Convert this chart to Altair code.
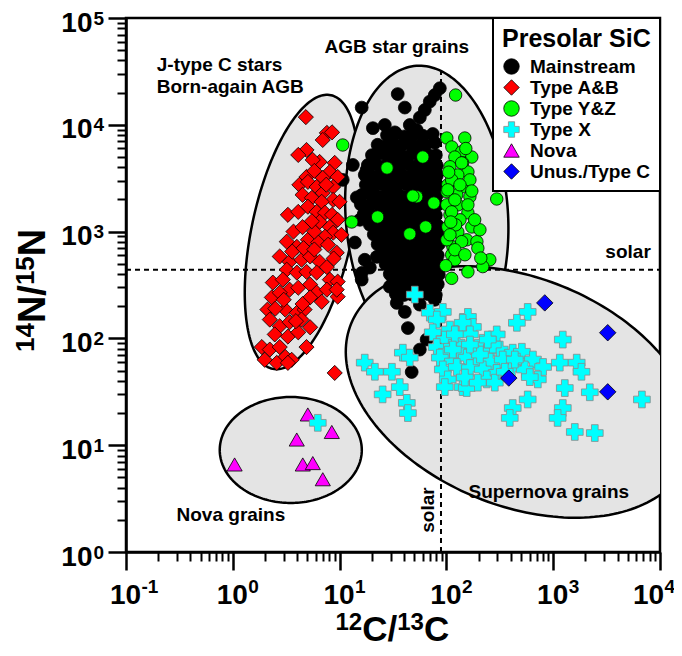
import altair as alt
import numpy as np
import pandas as pd

FONT = "Liberation Sans"

# ---------------- data: (12C/13C, 14N/15N) ----------------
mainstream = [
    (35.0, 19400), (16.1, 14500), (40.8, 14500), (77.9, 19000), (69.9, 16500), (62.8, 13760),
    (56.4, 11700), (20.5, 9300), (26.5, 9960), (32.9, 8500), (45.4, 9960), (52.7, 8940), (86.8, 22000),
    (27.8, 8000), (33.6, 8300), (40.8, 7800), (49.6, 8100), (60.1, 7900), (74.5, 8200),
    (22.7, 6500), (27.0, 6300), (32.2, 6600), (38.0, 6400), (45.4, 6700), (54.1, 6300), (64.0, 6500), (77.9, 6800),
    (20.1, 5200), (23.8, 5400), (28.3, 5100), (33.6, 5300), (40.0, 5000), (47.3, 5350), (56.4, 5150), (66.9, 5250), (79.6, 5200),
    (18.4, 4200), (21.8, 4300), (26.0, 4100), (30.9, 4250), (36.6, 4150), (43.6, 4300), (51.7, 4100), (61.6, 4250), (72.7, 4200), (81.3, 4150),
    (17.2, 3400), (20.4, 3300), (24.3, 3450), (28.9, 3350), (34.3, 3400), (40.8, 3300), (48.5, 3450), (57.5, 3350), (68.5, 3400), (81.3, 3350),
    (17.6, 2750), (20.9, 2700), (24.8, 2800), (29.5, 2700), (35.0, 2750), (41.6, 2800), (49.5, 2700), (58.7, 2750), (69.9, 2700), (81.3, 2750),
    (16.1, 2200), (19.2, 2250), (22.7, 2150), (27.0, 2200), (32.2, 2250), (38.0, 2150), (45.4, 2200), (54.1, 2250), (64.0, 2200), (76.3, 2150), (83.0, 2250),
    (15.8, 1800), (18.8, 1750), (22.3, 1820), (26.5, 1760), (31.6, 1800), (37.4, 1750), (44.5, 1800), (53.0, 1770), (62.8, 1800), (74.5, 1760), (83.0, 1790),
    (16.8, 1450), (20.1, 1420), (23.8, 1440), (28.3, 1410), (33.6, 1450), (40.0, 1420), (47.3, 1440), (56.4, 1430), (66.9, 1450), (79.6, 1420),
    (19.2, 1160), (22.7, 1140), (27.0, 1170), (32.2, 1150), (38.0, 1160), (45.4, 1140), (54.1, 1170), (64.0, 1150), (76.3, 1160), (83.0, 1140),
    (20.9, 940), (24.8, 920), (29.5, 945), (35.0, 925), (41.6, 940), (49.5, 920), (58.7, 935), (69.9, 925), (83.0, 940),
    (22.7, 760), (27.0, 745), (32.2, 755), (38.0, 750), (45.4, 760), (54.1, 745), (64.0, 755), (76.3, 750), (84.9, 760),
    (24.8, 610), (29.5, 600), (35.0, 615), (41.6, 600), (49.5, 610), (58.7, 605), (69.9, 612), (83.0, 600),
    (27.0, 495), (32.2, 485), (38.0, 492), (45.4, 488), (54.1, 495), (64.0, 485), (76.3, 490), (84.9, 495),
    (29.5, 400), (35.0, 390), (41.6, 398), (49.5, 392), (58.7, 400), (69.9, 390), (84.9, 396),
    (30.9, 320), (36.6, 315), (43.6, 322), (51.7, 318), (61.6, 320), (72.7, 316), (83.0, 322),
    (33.6, 260), (40.0, 255), (47.3, 258), (56.4, 256), (66.9, 260), (79.6, 255),
    (13.3, 4210), (10.7, 3050), (14.5, 2090), (13.9, 790), (15.5, 1290), (16.1, 410), (17.2, 545),
    (19.2, 460), (22.3, 580), (17.9, 3780), (16.1, 355),
    (34.3, 215), (43.6, 125), (56.4, 78.6), (47.3, 48.5), (29.5, 305), (52.7, 305), (69.9, 268),
    (39.1, 268), (65.3, 97.5), (40.8, 177), (56.4, 207), (77.9, 230),
]
type_ab = [
    (4.83, 11800), (7.6, 8400), (8.5, 8500), (6.95, 7210), (4.9, 5810), (4.1, 5220), (6.5, 4490), (5.6, 4690), (9.0, 4400),
    (8.1, 3620), (9.6, 3250), (4.9, 3250), (6.95, 3180), (4.2, 2740), (5.05, 2920), (6.1, 2620), (8.7, 2620), (6.95, 2300),
    (4.5, 2210), (5.5, 2070), (8.7, 1980), (6.8, 1900), (10.0, 1900),
    (3.28, 1435), (4.1, 1530), (5.05, 1710), (6.1, 1530), (7.3, 1500), (8.5, 1435), (9.6, 1290),
    (6.5, 1235), (8.1, 1105), (8.7, 975), (10.4, 933), (7.3, 895),
    (3.2, 805), (3.98, 720), (5.05, 838), (6.3, 790), (7.8, 753), (9.4, 635),
    (2.75, 585), (3.4, 522), (4.4, 545), (5.3, 585), (6.5, 522), (7.6, 465),
    (3.2, 440), (3.98, 413), (4.9, 420), (6.1, 413), (8.1, 355), (9.6, 340),
    (2.37, 333), (2.94, 355), (3.4, 286), (4.1, 298), (5.3, 319), (6.1, 268), (7.6, 286), (9.6, 246),
    (2.32, 242), (2.75, 268), (5.3, 242), (9.4, 286),
    (2.11, 186), (3.1, 186), (3.98, 174), (4.7, 186),
    (2.22, 150), (2.75, 130), (3.4, 142), (4.4, 150), (5.3, 127),
    (2.47, 109), (3.28, 104), (4.1, 114),
    (1.87, 83), (2.22, 78.6), (2.75, 83), (3.1, 67), (3.56, 63), (4.9, 83),
    (1.99, 63), (2.58, 59), (3.28, 59),
    (9.0, 47.5),
    (3.7, 1000), (4.5, 1100), (5.8, 1000), (3.6, 650), (4.6, 700), (5.8, 680), (8.8, 560), (3.0, 230),
    (4.5, 210), (6.8, 220), (3.9, 145), (2.5, 190), (5.8, 3700), (7.5, 2750), (5.5, 1250),
]
type_yz = [
    (100.9, 7520), (148.7, 7520), (112.4, 6200), (139, 5580), (173, 4990), (120, 4990), (108, 4050), (142, 4400),
    (159, 3620), (128, 3390), (103, 2740), (139, 2620), (166, 2120), (125, 2210), (101, 1780), (128, 1780),
    (159, 1500), (108, 1435), (134, 1290), (103, 1105), (128, 990), (155, 838), (193, 805), (197, 700),
    (115, 720), (112, 607), (255, 545), (219, 470), (159, 420), (112, 365), (120, 545), (139, 805),
    (101, 838), (152, 6000), (101, 2360),
    (112, 3050), (166, 3050), (103, 2460), (173, 2400), (120, 1980), (159, 1780), (112, 1530), (122, 1157),
    (173, 1105), (108, 933), (206, 1040), (120, 676), (149, 607), (210, 565), (98.6, 480), (110, 1230),
    (184, 1290), (139, 4400), (105, 3600), (134, 2740),
    (122, 19000), (10.7, 6470), (60.1, 4990), (27.8, 3940), (52.7, 2120), (48.5, 2150), (76.3, 1850),
    (22.7, 1370), (64.0, 1105), (45.4, 950), (13.0, 1230), (296, 2020),
]
type_x = [
    (50.6, 257), (69.9, 174), (92.6, 177), (81.3, 150), (159, 159), (177, 128), (142, 140),
    (74.5, 114), (108, 121), (96.6, 97.5), (125, 91), (166, 109), (219, 91), (296, 109),
    (81.3, 83), (101, 75), (134, 78.6), (177, 75), (239, 73.5), (316, 78.6), (418, 73.5), (509, 75),
    (86.8, 66), (115, 60.7), (155, 66), (193, 59.3), (255, 60.7), (337, 63.4), (457, 60.7), (646, 63.4), (804, 54),
    (92.6, 51.2), (125, 54), (166, 52.8), (219, 51.2), (296, 47.5), (410, 52.8), (542, 51.2), (718, 41.3),
    (103, 41.3), (142, 35.0), (239, 41.3), (284, 38.5), (96.6, 35.0), (155, 34.3),
    (17.2, 59.3), (21.4, 48.7), (30.9, 48.7), (39.1, 73.5), (45.4, 66), (36.6, 35.0), (25.3, 29.9),
    (42.6, 24.9), (43.6, 20.0),
    (577, 177), (457, 140), (1230, 97.5), (577, 26.8), (418, 22.3), (392, 18.0),
    (1153, 59.3), (1660, 59.3), (1840, 48.7), (1284, 34.3), (2202, 31.3), (1230, 22.3), (1100, 18.0),
    (1593, 13.3), (2452, 13.0), (6770, 26.8), (6.25, 16.2),
    (120, 109), (206, 70.6), (272, 87.6), (437, 63.4), (149, 43), (197, 38.5), (115, 78.6), (166, 87.6),
    (244, 97.5), (352, 48.7), (604, 43.4),
]
nova = [(5.04, 19.4), (8.45, 13.3), (3.97, 11.3), (1.04, 6.6), (4.52, 6.6), (5.61, 6.8), (6.96, 4.8)]
unusual = [(834, 215), (3240, 113), (384, 42.5), (3240, 31.6)]

types = ["Mainstream", "Type A&B", "Type Y&Z", "Type X", "Nova", "Unus./Type C"]
fills = ["#000000", "#ff0000", "#00ff00", "#00ffff", "#ff00ff", "#0000ff"]
shapes = ["circle", "diamond", "circle", "cross", "triangle-up", "diamond"]
strokes = ["#000000", "#000000", "#000000", "#8a8a8a", "#000000", "#000000"]
sizes = {"Mainstream": 165, "Type A&B": 230, "Type Y&Z": 155, "Type X": 280, "Nova": 230, "Unus./Type C": 270}

draw_order = [("Mainstream", mainstream), ("Type A&B", type_ab), ("Type Y&Z", type_yz),
              ("Nova", nova), ("Type X", type_x), ("Unus./Type C", unusual)]
rows = []
for name, pts in draw_order:
    for c, n in pts:
        rows.append({"type": name, "c12": c, "n14": n})
pts_df = pd.DataFrame(rows)
pts_df["k"] = np.arange(len(pts_df))
pts_df["sz"] = pts_df["type"].map(sizes)

# regions: centre (12C/13C, 14N/15N), semi-axes (decades), tilt (deg)
regions = [
    ("jtype", 4.43, 991, 1.31, 0.47, 78),
    ("agb", 65.5, 1430, 0.76, 1.40, 4),
    ("sn", 487, 31.5, 1.704, 1.067, -22),
    ("nova", 3.49, 9.02, 0.665, 0.496, 0),
]

solar_c, solar_n = 89, 440

ann_center = pd.DataFrame({"t": ["AGB star grains", "Nova grains", "Supernova grains"],
                           "c12": [34.3, 0.96, 910], "n14": [53500, 2.22, 3.65]})
ann_left = pd.DataFrame({"t": ["J-type C stars", "Born-again AGB"],
                         "c12": [0.194, 0.194], "n14": [36300, 22600]})
ann_right = pd.DataFrame({"t": ["solar"], "c12": [8200], "n14": [644]})
ann_rot = pd.DataFrame({"t": ["solar"], "c12": [67], "n14": [2.47]})

# ---------------- chart ----------------
W, H = 534, 534
xs = alt.Scale(type="log", domain=[0.1, 10000], nice=False)
ys = alt.Scale(type="log", domain=[1, 100000], nice=False)
dec_x = [0.1, 1, 10, 100, 1000, 10000]
dec_y = [1, 10, 100, 1000, 10000, 100000]
EXP = "'' + round(log(datum.value)/LN10)"
LAST = "datum.value > 5000"

lab = dict(labelFont=FONT, labelFontWeight="bold", labelColor="black", labelFlush=False,
           labelOverlap=False, grid=False, title="")

ax_x = alt.Axis(values=dec_x, labelExpr="'10'", orient="bottom", tickSize=18, tickWidth=2.5,
                tickColor="black", domainColor="black", domainWidth=2.5, labelFontSize=28,
                labelPadding=11, labelOffset={"condition": {"test": LAST, "value": -12}, "value": -1},
                **lab)
ax_y = alt.Axis(values=dec_y, labelExpr="'10'", orient="left", tickSize=18, tickWidth=2.5,
                tickColor="black", domainColor="black", domainWidth=2.5, labelFontSize=28,
                labelPadding=16, labelAlign="right", labelBaseline="middle", labelOffset=5, **lab)
ax_xe = alt.Axis(values=dec_x, labelExpr=EXP, orient="bottom", ticks=False, tickSize=0, domain=False,
                 labelFontSize=19, labelAlign="left", labelBaseline="top", labelPadding=25,
                 labelOffset={"condition": {"test": LAST, "value": 4}, "value": 15}, **lab)
ax_ye = alt.Axis(values=dec_y, labelExpr=EXP, orient="left", ticks=False, tickSize=0, domain=False,
                 labelFontSize=19, labelAlign="left", labelBaseline="middle", labelPadding=33,
                 labelOffset=0, **lab)

minor_x = [k * 10.0 ** d for d in range(-1, 4) for k in range(2, 10)]
minor_y = [k * 10.0 ** d for d in range(0, 5) for k in range(2, 10)]
ax_xm = alt.Axis(values=minor_x, orient="bottom", tickSize=9, tickWidth=2, tickColor="black",
                 labels=False, domain=False, grid=False, title="")
ax_ym = alt.Axis(values=minor_y, orient="left", tickSize=9, tickWidth=2, tickColor="black",
                 labels=False, domain=False, grid=False, title="")


def outline(cx, cy, a, b, deg, n=200):
    t = np.linspace(0, 2 * np.pi, n, endpoint=False)
    ph = np.radians(deg)
    lx = np.log10(cx) + a * np.cos(t) * np.cos(ph) - b * np.sin(t) * np.sin(ph)
    ly = np.log10(cy) + a * np.cos(t) * np.sin(ph) + b * np.sin(t) * np.cos(ph)
    return pd.DataFrame({"c12": 10 ** lx, "n14": 10 ** ly, "i": np.arange(n)})


layers = []
for name, cx, cy, a, b, deg in regions:
    layers.append(
        alt.Chart(outline(cx, cy, a, b, deg)).mark_line(
            interpolate="linear-closed", fill="#e4e4e4", stroke="black", strokeWidth=2.5, clip=True
        ).encode(
            x=alt.X("c12:Q", scale=xs, axis=None),
            y=alt.Y("n14:Q", scale=ys, axis=None),
            order=alt.Order("i:Q"),
        )
    )

hline = pd.DataFrame({"x": [0.1], "x2": [10000], "y": [solar_n]})
vline = pd.DataFrame({"x": [solar_c], "y": [1], "y2": [34000]})
layers.append(alt.Chart(hline).mark_rule(strokeDash=[5, 4], strokeWidth=2, color="black").encode(
    x=alt.X("x:Q", scale=xs, axis=None), x2="x2:Q", y=alt.Y("y:Q", scale=ys, axis=None)))
layers.append(alt.Chart(vline).mark_rule(strokeDash=[5, 4], strokeWidth=2, color="black").encode(
    x=alt.X("x:Q", scale=xs, axis=None), y=alt.Y("y:Q", scale=ys, axis=None), y2="y2:Q"))

txt = dict(font=FONT, fontSize=19, fontWeight="bold", color="black", baseline="middle")
for df, extra in [(ann_center, dict(align="center")), (ann_left, dict(align="left")),
                  (ann_right, dict(align="right")), (ann_rot, dict(align="center", angle=270))]:
    layers.append(alt.Chart(df).mark_text(**txt, **extra).encode(
        x=alt.X("c12:Q", scale=xs, axis=None), y=alt.Y("n14:Q", scale=ys, axis=None), text="t:N"))

leg = alt.Legend(title="Presolar SiC", orient="top-right", offset=0, padding=9, fillColor="white",
                 strokeColor="black", titleFont=FONT, titleFontSize=25, titleFontWeight="bold",
                 titleColor="black", titlePadding=5, labelFont=FONT, labelFontSize=19,
                 labelFontWeight="bold", labelColor="black", symbolSize=240, symbolStrokeWidth=0.8,
                 symbolOpacity=1, rowPadding=1, labelOffset=9, labelLimit=300)

points = alt.Chart(pts_df).mark_point(filled=True, opacity=1, strokeWidth=0.8).encode(
    x=alt.X("c12:Q", scale=xs, axis=ax_x),
    y=alt.Y("n14:Q", scale=ys, axis=ax_y),
    fill=alt.Fill("type:N", scale=alt.Scale(domain=types, range=fills), legend=leg),
    shape=alt.Shape("type:N", scale=alt.Scale(domain=types, range=shapes), legend=leg),
    stroke=alt.Stroke("type:N", scale=alt.Scale(domain=types, range=strokes), legend=leg),
    size=alt.Size("sz:Q", scale=None, legend=None),
    order=alt.Order("k:Q"),
)
layers.append(points)

one = pd.DataFrame({"c12": [1.0], "n14": [1.0]})
layers.append(alt.Chart(one).mark_point(opacity=0).encode(
    x=alt.X("c12:Q", scale=xs, axis=ax_xm), y=alt.Y("n14:Q", scale=ys, axis=ax_ym)))
layers.append(alt.Chart(one).mark_point(opacity=0).encode(
    x=alt.X("c12:Q", scale=xs, axis=ax_xe), y=alt.Y("n14:Q", scale=ys, axis=ax_ye)))

# axis titles with real superscripts (pieces of text)
TF, TS = 35, 24      # x title: main / superscript font size
YF, YS = 38, 26      # y title
x_title = [("12", TS, 209.5, 612), ("C/", TF, 236.2, 623), ("13", TS, 271.2, 612), ("C", TF, 297.9, 623)]
y_title = [("14", YS, -92, 334), ("N/", YF, -81, 305.1), ("15", YS, -92, 267.1), ("N", YF, -81, 238.2)]


def piece(text, size, px, py, angle=0):
    kw = dict(font=FONT, fontWeight="bold", fontSize=size, color="black", align="left",
              baseline="alphabetic")
    if angle:
        kw["angle"] = angle
    return alt.Chart(pd.DataFrame({"t": [text]})).mark_text(**kw).encode(
        text="t:N", x=alt.value(px), y=alt.value(py))


for t, s, px, py in x_title:
    layers.append(piece(t, s, px, py))
for t, s, px, py in y_title:
    layers.append(piece(t, s, px, py, angle=270))

chart = alt.layer(*layers).resolve_axis(x="independent", y="independent").properties(
    width=W, height=H,
    padding={"left": 118, "top": 10, "right": 14, "bottom": 96},
    autosize=alt.AutoSizeParams(type="none"),
    background="white",
).configure_view(stroke="black", strokeWidth=2.5).configure_legend(strokeWidth=2)

chart.save("out.html", embed_options={"renderer": "svg", "actions": False})
